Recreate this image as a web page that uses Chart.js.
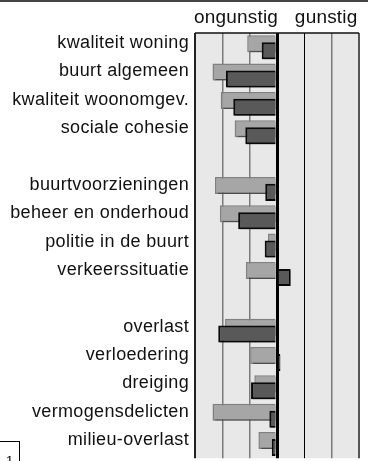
<!DOCTYPE html>
<html>
<head>
<meta charset="utf-8">
<script src="https://cdn.jsdelivr.net/npm/chart.js@4/dist/chart.umd.min.js"></script>
<style>
  html, body { margin: 0; padding: 0; background: #fff; overflow: hidden; }
  body { width: 368px; height: 461px; position: relative; }
  .topline { position: absolute; left: 0; top: 0; width: 368px; height: 2px; background: #444; }
  .wrap { position: absolute; left: 0; top: 0; width: 368px; height: 475px; }
  .pagebox {
    position: absolute; left: -1px; top: 441px; width: 21px; height: 30px;
    border: 1px solid #000; font: 13px "Liberation Sans", Arial, sans-serif;
    text-align: center; line-height: 14px; padding-top: 12px; box-sizing: border-box;
  }
</style>
</head>
<body>
<div class="wrap"><canvas id="chart" width="368" height="475"></canvas></div>
<div class="topline"></div>
<div class="pagebox">1</div>
<script>
// rows of the chart, blank entries are spacer rows
const categories = [
  'kwaliteit woning', 'buurt algemeen', 'kwaliteit woonomgev.', 'sociale cohesie',
  '',
  'buurtvoorzieningen', 'beheer en onderhoud', 'politie in de buurt', 'verkeerssituatie',
  '',
  'overlast', 'verloedering', 'dreiging', 'vermogensdelicten', 'milieu-overlast'
];
const lightValues = [-1.09, -2.36, -2.06, -1.55, null, -2.27, -2.09, -0.33, -1.14, null, -1.90, -0.98, -0.83, -2.36, -0.68];
const darkValues  = [-0.56, -1.87, -1.60, -1.16, null, -0.43, -1.42, -0.45, 0.50, null, -2.15, 0.12, -0.95, -0.28, -0.19];
const xTicks = [-3, -2, -1, 0, 1, 2, 3];
const topLabels = [{ text: 'ongunstig', at: -1.5 }, { text: 'gunstig', at: 1.8 }];

const FONT = '"Liberation Sans", Arial, sans-serif';

// plot background, top edge and the two headings above it
const framePlugin = {
  id: 'frame',
  beforeDraw(chart) {
    const { ctx, chartArea: a } = chart;
    ctx.letterSpacing = '0.35px';
    ctx.save();
    ctx.fillStyle = '#e8e8e8';
    ctx.fillRect(a.left, a.top, a.right - a.left, a.bottom - a.top);
    ctx.restore();
  },
  afterDraw(chart) {
    const { ctx, chartArea: a, scales } = chart;
    ctx.save();
    ctx.strokeStyle = '#111';
    ctx.lineWidth = 1.5;
    ctx.beginPath();
    ctx.moveTo(a.left, a.top);
    ctx.lineTo(a.right, a.top);
    ctx.stroke();
    ctx.fillStyle = '#111';
    ctx.font = '19px ' + FONT;
    ctx.letterSpacing = '0.2px';
    ctx.textAlign = 'center';
    ctx.textBaseline = 'alphabetic';
    topLabels.forEach(l => ctx.fillText(l.text, scales.x.getPixelForValue(l.at), a.top - 10));
    ctx.restore();
  }
};

// the dark series sits in the lower slot but must be painted over the light one
let lateDraw = false;
const orderPlugin = {
  id: 'barOrder',
  beforeDatasetDraw(chart, args) {
    if (args.index === 1 && !lateDraw) return false;
    const ctx = chart.ctx;
    ctx.save();
    ctx.shadowColor = 'rgba(0,0,0,0.4)';
    ctx.shadowOffsetX = 1.5;
    ctx.shadowOffsetY = 1.5;
  },
  afterDatasetDraw(chart) {
    chart.ctx.restore();
  },
  afterDatasetsDraw(chart) {
    lateDraw = true;
    const ctx = chart.ctx;
    ctx.save();
    ctx.shadowColor = 'rgba(0,0,0,0.4)';
    ctx.shadowOffsetX = 1.5;
    ctx.shadowOffsetY = 1.5;
    chart.getDatasetMeta(1).controller.draw();
    ctx.restore();
    lateDraw = false;
  }
};

function gridColor(v) {
  if (v === 0 || v === 1) return '#000';
  if (v === -3) return '#222';
  if (v === 3) return '#555';
  return '#7a7a7a';
}
function gridWidth(v) {
  if (v === 0) return 3;
  if (v === -3 || v === 3) return 2;
  if (v === 1) return 1;
  return 1.5;
}

new Chart(document.getElementById('chart'), {
  type: 'bar',
  data: {
    labels: categories,
    datasets: [
      {
        label: 'licht',
        data: lightValues,
        backgroundColor: '#a6a6a6',
        borderColor: '#808080',
        borderWidth: 1.5,
        categoryPercentage: 0.49,
        barPercentage: 2.45,
      },
      {
        label: 'donker',
        data: darkValues,
        backgroundColor: '#595959',
        borderColor: '#0a0a0a',
        borderWidth: 2,
        categoryPercentage: 0.49,
        barPercentage: 2.45,
      }
    ]
  },
  options: {
    indexAxis: 'y',
    responsive: false,
    animation: false,
    layout: { padding: { top: 33, left: 0, right: 9, bottom: 13 } },
    plugins: {
      legend: { display: false },
      tooltip: { enabled: false }
    },
    scales: {
      x: {
        position: 'top',
        min: -3,
        max: 3,
        afterBuildTicks: scale => { scale.ticks = xTicks.map(v => ({ value: v })); },
        afterFit: scale => { scale.height = 0; },
        ticks: { display: false },
        border: { display: false },
        grid: {
          drawTicks: false,
          color: c => gridColor(c.tick.value),
          lineWidth: c => gridWidth(c.tick.value),
        }
      },
      y: {
        afterFit: scale => { scale.width = 195; },
        grid: { display: false, drawTicks: false },
        border: { display: false },
        ticks: {
          color: '#111',
          padding: 6,
          labelOffset: -4,
          autoSkip: false,
          font: { family: FONT, size: 18 }
        }
      }
    }
  },
  plugins: [framePlugin, orderPlugin]
});
</script>
</body>
</html>
